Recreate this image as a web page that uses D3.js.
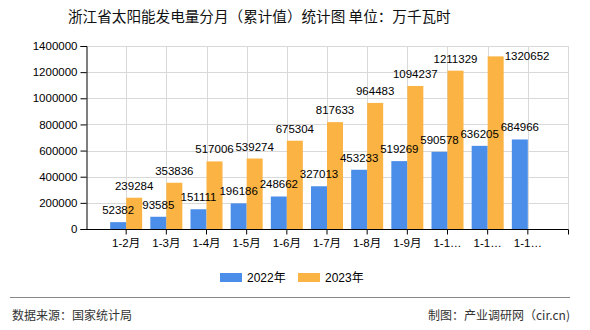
<!DOCTYPE html>
<html>
<head>
<meta charset="utf-8">
<script src="https://cdn.jsdelivr.net/npm/d3@7/dist/d3.min.js"></script>
<style>
  html, body { margin: 0; padding: 0; background: #fff; }
  svg text { font-family: "Liberation Sans", "Noto Sans CJK SC", sans-serif; }
</style>
</head>
<body>
<svg id="chart" width="590" height="330"></svg>
<script>
const titleText = "浙江省太阳能发电量分月（累计值）统计图 单位：万千瓦时";
const categories = ["1-2月", "1-3月", "1-4月", "1-5月", "1-6月", "1-7月", "1-8月", "1-9月", "1-10月", "1-11月", "1-12月"];
const seriesNames = ["2022年", "2023年"];
const values2022 = [52382, 93585, 151111, 196186, 248662, 327013, 453233, 519269, 590578, 636205, 684966];
const values2023 = [239284, 353836, 517006, 539274, 675304, 817633, 964483, 1094237, 1211329, 1320652, null];
const yTicks = [0, 200000, 400000, 600000, 800000, 1000000, 1200000, 1400000];
const sourceText = "数据来源：国家统计局";
const creditText = "制图：产业调研网（cir.cn)";

const colors = ["#4a8ee9", "#fbb343"];
const svg = d3.select("#chart");

const pLeft = 86, pRight = 568, pTop = 46, pBottom = 229;
const band = (pRight - pLeft) / (categories.length + 1);

const x = d3.scaleBand().domain(categories).range([pLeft + band / 2, pRight - band / 2]).padding(0);
const y = d3.scaleLinear().domain([0, 1400000]).range([pBottom, pTop]);
const barW = 16;

// title
svg.append("text").attr("x", 68).attr("y", 22)
  .attr("font-size", "14.6px").attr("fill", "#111")
  .style("font-family", "'Noto Sans CJK SC', sans-serif")
  .text(titleText);

// grid
const grid = svg.append("g").attr("stroke", "#d9d9d9").attr("stroke-width", 1);
yTicks.filter(d => d > 0).forEach(t => {
  grid.append("line").attr("x1", pLeft).attr("x2", pRight)
    .attr("y1", Math.round(y(t)) + 0.5).attr("y2", Math.round(y(t)) + 0.5);
});
const vx = categories.map(c => x(c) + x.bandwidth() / 2).concat([pRight]);
vx.forEach(v => {
  grid.append("line").attr("x1", Math.round(v) + 0.5).attr("x2", Math.round(v) + 0.5)
    .attr("y1", pTop).attr("y2", pBottom);
});

// bars
const data = categories.map((c, i) => ({ c, v: [values2022[i], values2023[i]] }));
const barsG = svg.append("g");
data.forEach(d => {
  d.v.forEach((v, s) => {
    if (v == null) return;
    const cx = x(d.c) + x.bandwidth() / 2;
    const bx = s === 0 ? cx - barW : cx;
    barsG.append("rect").attr("x", bx).attr("y", y(v))
      .attr("width", barW).attr("height", y(0) - y(v)).attr("fill", colors[s]);
  });
});

// y axis
const yAxis = d3.axisLeft(y).tickValues(yTicks).tickSize(6).tickPadding(3).tickFormat(d3.format("d"));
const gy = svg.append("g").attr("transform", `translate(${pLeft + 0.5},0)`).call(yAxis);
gy.select(".domain").attr("stroke", "#000");
gy.selectAll(".tick line").attr("stroke", "#000");
gy.selectAll(".tick text").attr("font-size", "11.5px").attr("fill", "#000")
  .style("font-family", "'Liberation Sans', sans-serif");

// x axis
const xAxis = d3.axisBottom(x).tickSize(5).tickPadding(4)
  .tickFormat(d => d.length > 4 ? d.slice(0, 3) + "…" : d);
const gx = svg.append("g").attr("transform", `translate(0,${pBottom + 0.5})`).call(xAxis);
gx.select(".domain").remove();
gx.append("line").attr("x1", pLeft).attr("x2", pRight + 0.5).attr("stroke", "#000");
gx.append("line").attr("x1", pRight + 0.5).attr("x2", pRight + 0.5).attr("y1", 0).attr("y2", 5).attr("stroke", "#000");
gx.selectAll(".tick line").attr("stroke", "#000");
gx.selectAll(".tick text").attr("font-size", "11.5px").attr("fill", "#000")
  .style("font-family", "'Liberation Sans', 'Noto Sans CJK SC', sans-serif");

// value labels
const labG = svg.append("g").attr("font-size", "11.5px").attr("fill", "#000")
  .style("font-family", "'Liberation Sans', sans-serif");
data.forEach(d => {
  d.v.forEach((v, s) => {
    if (v == null) return;
    const cx = x(d.c) + x.bandwidth() / 2;
    const bc = s === 0 ? cx - barW / 2 : cx + barW / 2;
    const topY = y(v);
    if (topY - 18 < pTop - 6) {
      labG.append("text").attr("x", bc + barW / 2 + 1).attr("y", topY + 4)
        .attr("text-anchor", "start").text(v);
    } else {
      labG.append("text").attr("x", bc).attr("y", topY - 8)
        .attr("text-anchor", "middle").text(v);
    }
  });
});

// legend
const lg = svg.append("g");
const legX = [220, 298];
seriesNames.forEach((n, i) => {
  lg.append("rect").attr("x", legX[i]).attr("y", 273).attr("width", 22).attr("height", 9).attr("fill", colors[i]);
  lg.append("text").attr("x", legX[i] + 27).attr("y", 282).attr("font-size", "12px").attr("fill", "#000")
    .style("font-family", "'Liberation Sans', 'Noto Sans CJK SC', sans-serif").text(n);
});

// footer
svg.append("line").attr("x1", 10).attr("x2", 570).attr("y1", 297.5).attr("y2", 297.5)
  .attr("stroke", "#888").attr("stroke-width", 1);
svg.append("text").attr("x", 12).attr("y", 320).attr("font-size", "12px").attr("fill", "#333")
  .style("font-family", "'Noto Sans CJK SC', sans-serif").text(sourceText);
svg.append("text").attr("x", 570).attr("y", 320).attr("text-anchor", "end").attr("font-size", "12px").attr("fill", "#333")
  .style("font-family", "'Noto Sans CJK SC', sans-serif").text(creditText);
</script>
</body>
</html>
